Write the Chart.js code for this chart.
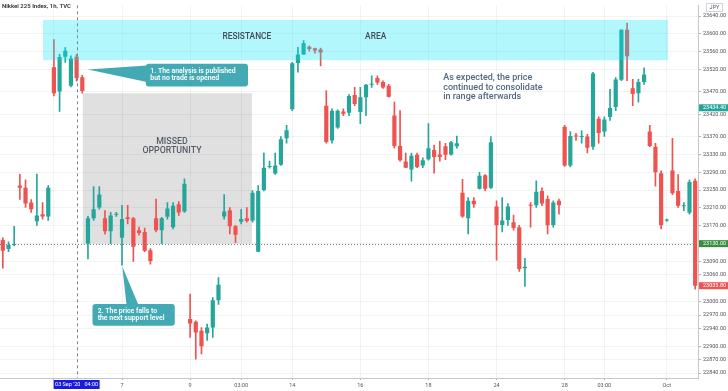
<!DOCTYPE html>
<html>
<head>
<meta charset="utf-8">
<script src="https://cdn.jsdelivr.net/npm/chart.js@4.4.1/dist/chart.umd.min.js"></script>
<style>
  html, body { margin: 0; padding: 0; background: #fff; }
</style>
</head>
<body>
<canvas id="myChart" width="728" height="391"></canvas>
<script>
// hourly candles, Nikkei 225
const opens = [
  23138, 23118, 23127, 23260, 23255, 23222, 23180, 23196, 23191, 23525,
  23471, 23549, 23484, 23549, 23503, 23130, 23187, 23211, 23187, 23158,
  23195, 23143, 23189, 23187, 23160, 23156, 23115, 23187, 23160, 23190,
  23167, 23218, 23202, 22961, 22955, 22935, 22929, 22942, 23003, 23191,
  23205, 23169, 23179, 23187, 23182, 23112, 23250, 23302, 23287, 23307,
  23366, 23431, 23535, 23554, 23571, 23568, 23565, 23439, 23361, 23390,
  23426, 23423, 23463, 23425, 23458, 23486, 23501, 23492, 23484, 23417,
  23349, 23314, 23296, 23329, 23305, 23319, 23340, 23330, 23348, 23330,
  23348, 23244, 23187, 23226, 23253, 23283, 23255, 23213, 23172, 23183,
  23178, 23167, 23075, 23217, 23216, 23248, 23230, 23172, 23226, 23392,
  23305, 23372, 23369, 23370, 23347, 23410, 23381, 23414, 23436, 23497,
  23609, 23478, 23467, 23492, 23381, 23347, 23288, 23182, 23294, 23248,
  23214, 23199, 23271
];
const highs = [
  23143, 23134, 23169, 23286, 23273, 23229, 23286, 23222, 23260, 23587,
  23554, 23569, 23551, 23554, 23507, 23191, 23258, 23258, 23204, 23200,
  23200, 23216, 23216, 23189, 23167, 23165, 23119, 23230, 23189, 23222,
  23222, 23224, 23275, 23017, 22957, 22942, 22950, 23009, 23054, 23240,
  23211, 23171, 23207, 23211, 23249, 23260, 23333, 23315, 23333, 23370,
  23395, 23536, 23570, 23585, 23573, 23568, 23568, 23473, 23432, 23430,
  23432, 23464, 23480, 23480, 23487, 23506, 23506, 23495, 23487, 23447,
  23428, 23333, 23333, 23333, 23322, 23399, 23351, 23359, 23355, 23359,
  23371, 23274, 23233, 23233, 23290, 23285, 23370, 23226, 23233, 23220,
  23194, 23171, 23097, 23222, 23271, 23255, 23237, 23226, 23230, 23395,
  23381, 23377, 23383, 23375, 23514, 23414, 23414, 23476, 23502, 23609,
  23624, 23498, 23498, 23524, 23395, 23355, 23293, 23185, 23366, 23285,
  23222, 23273, 23275
];
const lows = [
  23075, 23112, 23125, 23229, 23211, 23200, 23171, 23185, 23182, 23461,
  23426, 23536, 23481, 23494, 23467, 23096, 23182, 23207, 23151, 23130,
  23191, 23082, 23174, 23090, 23149, 23112, 23084, 23156, 23130, 23185,
  23163, 23193, 23200, 22920, 22871, 22883, 22913, 22920, 22994, 23185,
  23152, 23132, 23174, 23178, 23178, 23112, 23248, 23299, 23285, 23305,
  23355, 23428, 23514, 23554, 23561, 23557, 23528, 23355, 23355, 23388,
  23417, 23417, 23439, 23399, 23417, 23480, 23487, 23478, 23458, 23344,
  23315, 23300, 23270, 23300, 23300, 23317, 23288, 23315, 23318, 23328,
  23344, 23189, 23152, 23211, 23252, 23248, 23253, 23093, 23156, 23171,
  23160, 23068, 23034, 23167, 23211, 23215, 23152, 23167, 23196, 23303,
  23302, 23361, 23355, 23333, 23341, 23355, 23370, 23406, 23428, 23495,
  23495, 23439, 23447, 23487, 23347, 23259, 23163, 23180, 23240, 23211,
  23204, 23196, 23028
];
const closes = [
  23114, 23127, 23129, 23255, 23220, 23207, 23193, 23191, 23255, 23467,
  23548, 23562, 23545, 23501, 23472, 23187, 23207, 23240, 23158, 23193,
  23197, 23185, 23185, 23123, 23154, 23114, 23091, 23160, 23187, 23209,
  23215, 23200, 23264, 22951, 22931, 22900, 22942, 23003, 23038, 23202,
  23169, 23150, 23185, 23181, 23244, 23248, 23300, 23304, 23305, 23364,
  23384, 23534, 23554, 23579, 23566, 23563, 23558, 23358, 23428, 23428,
  23421, 23461, 23443, 23458, 23486, 23488, 23491, 23480, 23459, 23349,
  23317, 23300, 23327, 23302, 23317, 23344, 23324, 23324, 23329, 23357,
  23355, 23191, 23226, 23218, 23282, 23253, 23357, 23171, 23182, 23213,
  23165, 23073, 23078, 23215, 23246, 23220, 23171, 23222, 23216, 23305,
  23371, 23370, 23371, 23345, 23511, 23378, 23408, 23434, 23498, 23609,
  23550, 23465, 23492, 23509, 23349, 23290, 23171, 23184, 23243, 23215,
  23216, 23268, 23035.8
];
const xTickPos = [9, 21, 33, 42, 51, 63, 75, 87, 99, 106, 117];
const xTickText = ['', '7', '9', '03:00', '14', '16', '18', '24', '28', '03:00', 'Oct'];
const yTickValues = [23640, 23600, 23560, 23520, 23470, 23420, 23370, 23330, 23290, 23250,
  23210, 23170, 23130, 23090, 23060, 23000, 22970, 22940, 22900, 22870, 22840];

const UP = '#26a69a';
const DOWN = '#ef5350';
const FONT = 'Roboto, "Noto Sans", sans-serif';

function candleColor(i) {
    return closes[i] >= opens[i] ? UP : DOWN;
}

const overlay = {
    id: 'overlay',
    beforeDatasetsDraw(chart) {
        const { ctx, scales: { x, y } } = chart;
        ctx.save();
        // missed opportunity zone
        const x1 = x.getPixelForValue(14.1), x2 = x.getPixelForValue(43.9);
        const y1 = y.getPixelForValue(23467), y2 = y.getPixelForValue(23130);
        ctx.fillStyle = 'rgba(0,0,0,0.12)';
        ctx.fillRect(x1, y1, x2 - x1, y2 - y1);
        ctx.fillStyle = '#555b68';
        ctx.font = '500 8.8px ' + FONT;
        ctx.textAlign = 'center';
        ctx.textBaseline = 'middle';
        ctx.fillText('MISSED', x.getPixelForValue(29.8), y.getPixelForValue(23359));
        ctx.fillText('OPPORTUNITY', x.getPixelForValue(29.8), y.getPixelForValue(23339));
        ctx.restore();
    },
    afterDatasetsDraw(chart) {
        const { ctx, scales: { x, y }, chartArea } = chart;
        ctx.save();
        // resistance area
        const rx1 = x.getPixelForValue(7.08), rx2 = x.getPixelForValue(117.2);
        const ry1 = y.getPixelForValue(23631), ry2 = y.getPixelForValue(23541);
        ctx.fillStyle = 'rgba(0,230,242,0.3)';
        ctx.fillRect(rx1, ry1, rx2 - rx1, ry2 - ry1);
        ctx.fillStyle = '#434a58';
        ctx.font = '500 8.4px ' + FONT;
        ctx.textAlign = 'center';
        ctx.textBaseline = 'middle';
        ctx.fillText('RESISTANCE', x.getPixelForValue(43), y.getPixelForValue(23593));
        ctx.fillText('AREA', x.getPixelForValue(65.7), y.getPixelForValue(23593));

        // support line
        const sy = Math.round(y.getPixelForValue(23130)) + 0.5;
        ctx.strokeStyle = '#787b86';
        ctx.lineWidth = 1;
        ctx.setLineDash([1, 2]);
        ctx.beginPath();
        ctx.moveTo(chartArea.left, sy);
        ctx.lineTo(chartArea.right, sy);
        ctx.stroke();

        // crosshair at publication time
        const cx = Math.round(x.getPixelForValue(13)) + 0.5;
        ctx.strokeStyle = '#758696';
        ctx.setLineDash([3, 3]);
        ctx.beginPath();
        ctx.moveTo(cx, chartArea.top);
        ctx.lineTo(cx, chartArea.bottom);
        ctx.stroke();
        ctx.setLineDash([]);

        // callout 1
        const calloutColor = '#43a9b4';
        ctx.fillStyle = calloutColor;
        let bx1 = x.getPixelForValue(25.2), bx2 = x.getPixelForValue(43.2);
        let by1 = y.getPixelForValue(23533), by2 = y.getPixelForValue(23482);
        ctx.beginPath();
        ctx.roundRect(bx1, by1, bx2 - bx1, by2 - by1, 3);
        ctx.fill();
        ctx.beginPath();
        ctx.moveTo(x.getPixelForValue(15.0), y.getPixelForValue(23520));
        ctx.lineTo(bx1 + 1, y.getPixelForValue(23529));
        ctx.lineTo(bx1 + 1, y.getPixelForValue(23492));
        ctx.closePath();
        ctx.fill();
        ctx.fillStyle = '#ffffff';
        ctx.font = '600 6.9px ' + FONT;
        ctx.textAlign = 'left';
        ctx.fillText('1. The analysis is published', bx1 + 4.5, by1 + 7.4);
        ctx.fillText('but no trade is opened', bx1 + 4.5, by1 + 14.7);

        // callout 2
        ctx.fillStyle = calloutColor;
        bx1 = x.getPixelForValue(15.8); bx2 = x.getPixelForValue(30.3);
        by1 = y.getPixelForValue(22995); by2 = y.getPixelForValue(22946);
        ctx.beginPath();
        ctx.roundRect(bx1, by1, bx2 - bx1, by2 - by1, 3);
        ctx.fill();
        ctx.beginPath();
        ctx.moveTo(x.getPixelForValue(21.05), y.getPixelForValue(23079));
        ctx.lineTo(x.getPixelForValue(21.8), by1 + 1);
        ctx.lineTo(x.getPixelForValue(23.9), by1 + 1);
        ctx.closePath();
        ctx.fill();
        ctx.fillStyle = '#ffffff';
        ctx.fillText('2. The price falls to', bx1 + 5.2, by1 + 7.6);
        ctx.fillText('the next support level', bx1 + 5.2, by1 + 14);

        // comment on the right
        ctx.fillStyle = '#53687f';
        ctx.font = '500 9px ' + FONT;
        const tx = x.getPixelForValue(77.6);
        ctx.fillText('As expected, the price', tx, y.getPixelForValue(23502));
        ctx.fillText('continued to consolidate', tx, y.getPixelForValue(23480));
        ctx.fillText('in range afterwards', tx, y.getPixelForValue(23459));

        // title
        ctx.fillStyle = '#2a2e39';
        ctx.font = '600 6px ' + FONT;
        ctx.fillText('Nikkei 225 Index, 1h, TVC', 2, 6.5);
        ctx.restore();
    },
    afterDraw(chart) {
        const { ctx, scales: { x, y }, chartArea } = chart;
        ctx.save();
        ctx.font = '5.5px ' + FONT;
        ctx.textBaseline = 'middle';
        // price labels on the axis
        const tags = [[23434.4, '#26a69a'], [23130, '#388e3c'], [23035.8, '#ef5350']];
        tags.forEach(([v, c]) => {
            const py = y.getPixelForValue(v);
            ctx.fillStyle = c;
            ctx.fillRect(chartArea.right + 1, py - 3.5, 30, 7);
            ctx.fillStyle = '#ffffff';
            ctx.textAlign = 'left';
            ctx.fillText(v.toFixed(2), chartArea.right + 5, py + 0.3);
        });
        // currency badge
        ctx.fillStyle = '#ffffff';
        ctx.fillRect(706, 3, 16, 8);
        ctx.strokeStyle = '#d1d4dc';
        ctx.lineWidth = 1;
        ctx.strokeRect(706.5, 3.5, 16, 8);
        ctx.fillStyle = '#50535e';
        ctx.textAlign = 'center';
        ctx.fillText('JPY', 714.5, 7.8);
        // time label of the crosshair
        const cx = x.getPixelForValue(13);
        ctx.fillStyle = '#1a1ae0';
        ctx.fillRect(cx - 23, chartArea.bottom + 2, 46, 9);
        ctx.fillStyle = '#ffffff';
        ctx.fillText("03 Sep '20   04:00", cx, chartArea.bottom + 6.8);
        ctx.restore();
    }
};

document.addEventListener('DOMContentLoaded', function () {
    const ctx = document.getElementById('myChart').getContext('2d');
    const labels = opens.map((_, i) => String(i));
    const config = {
        type: 'bar',
        data: {
            labels: labels,
            datasets: [
                {
                    label: 'body',
                    data: opens.map((o, i) => [o, closes[i]]),
                    backgroundColor: (c) => candleColor(c.dataIndex),
                    borderWidth: 0,
                    barPercentage: 0.74,
                    categoryPercentage: 1,
                    minBarLength: 1,
                    grouped: false,
                    order: 0
                },
                {
                    label: 'wick',
                    data: lows.map((l, i) => [l, highs[i]]),
                    backgroundColor: (c) => candleColor(c.dataIndex),
                    borderWidth: 0,
                    barThickness: 1,
                    grouped: false,
                    order: 1
                }
            ]
        },
        options: {
            responsive: false,
            animation: false,
            layout: { padding: 0 },
            plugins: {
                legend: { display: false },
                tooltip: { enabled: false }
            },
            scales: {
                x: {
                    offset: true,
                    afterBuildTicks: (scale) => {
                        scale.ticks = xTickPos.map(v => ({ value: v }));
                    },
                    afterFit: (scale) => { scale.height = 13; },
                    grid: {
                        offset: false,
                        color: 'rgba(42,46,57,0.06)',
                        tickColor: '#b2b5be',
                        tickLength: 2
                    },
                    border: { color: '#c3c6ce' },
                    ticks: {
                        autoSkip: false,
                        maxRotation: 0,
                        minRotation: 0,
                        padding: 2,
                        color: '#50535e',
                        font: { size: 5.5, family: FONT },
                        callback: (v) => xTickText[xTickPos.indexOf(v)]
                    }
                },
                y: {
                    position: 'right',
                    min: 22829,
                    max: 23664,
                    afterBuildTicks: (scale) => {
                        scale.ticks = yTickValues.map(v => ({ value: v }));
                    },
                    afterFit: (scale) => { scale.width = 30; },
                    grid: {
                        color: 'rgba(42,46,57,0.06)',
                        tickColor: '#b2b5be',
                        tickLength: 3
                    },
                    border: { color: '#c3c6ce' },
                    ticks: {
                        padding: 2,
                        color: '#50535e',
                        font: { size: 5.5, family: FONT },
                        callback: (v) => v.toFixed(2)
                    }
                }
            }
        },
        plugins: [overlay]
    };
    new Chart(ctx, config);
});
</script>
</body>
</html>
